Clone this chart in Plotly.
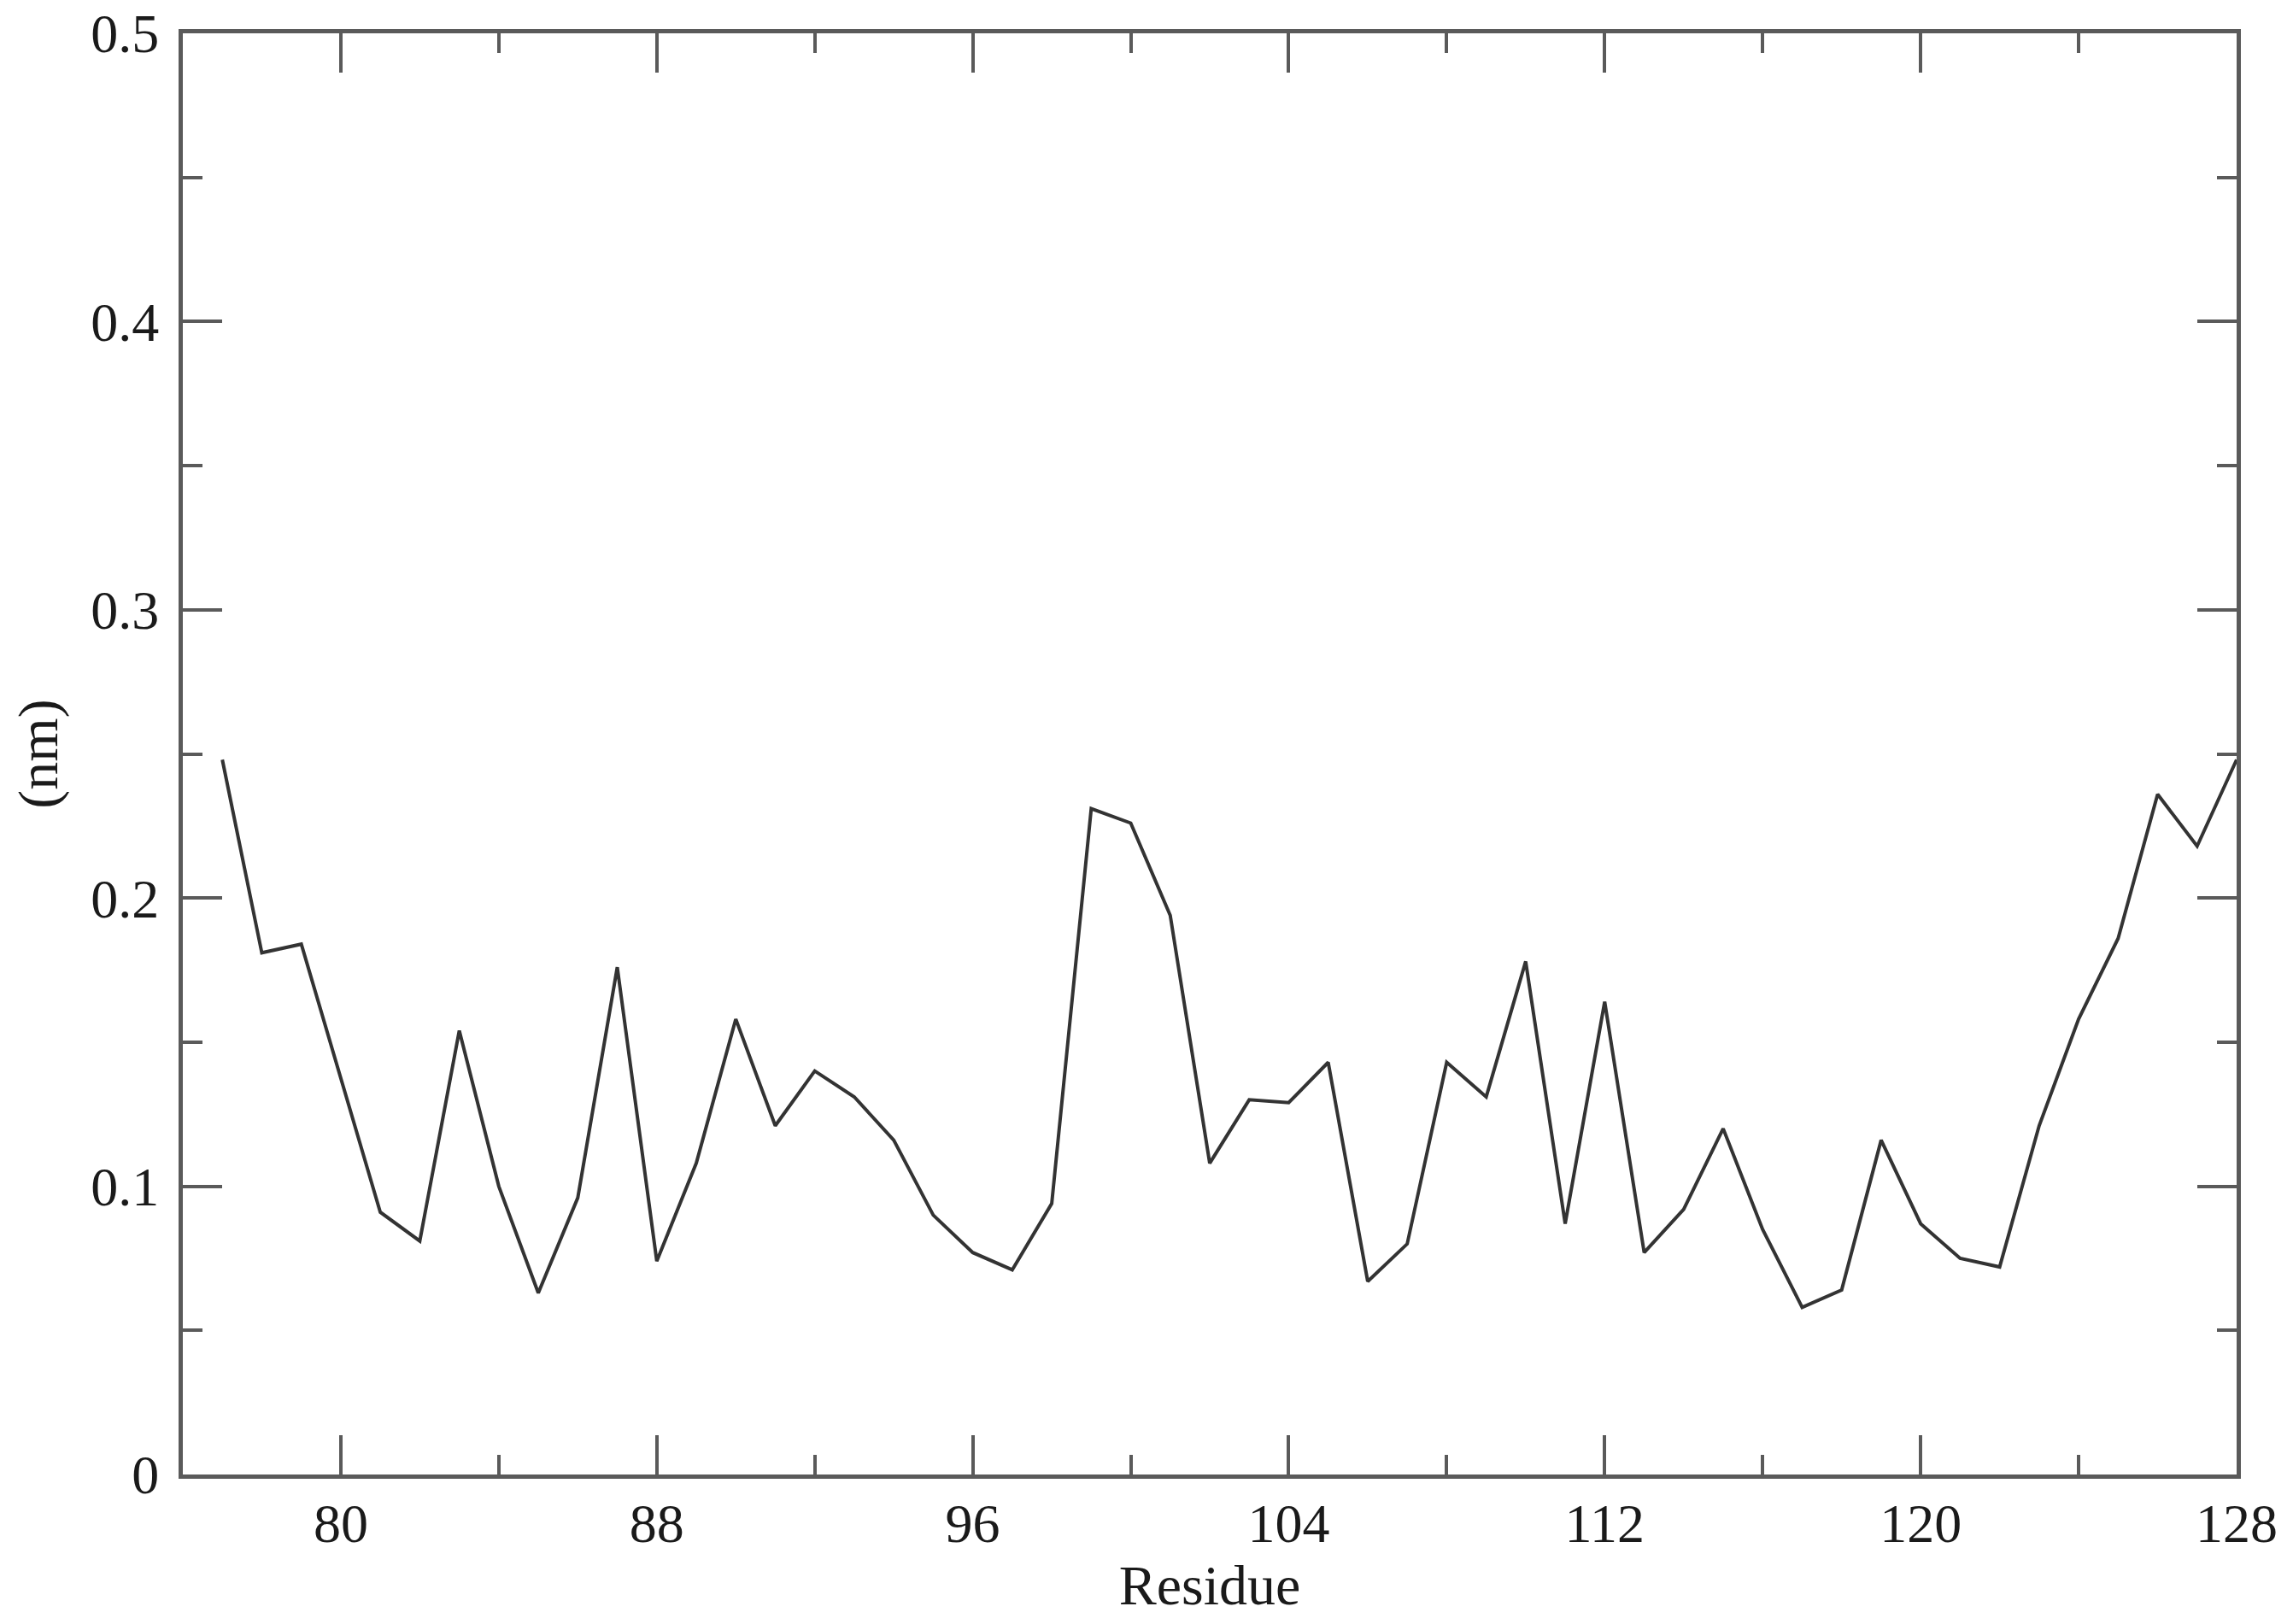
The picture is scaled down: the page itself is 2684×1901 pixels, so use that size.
import plotly.graph_objects as go

# residue numbers and per-residue values (nm)
residues = list(range(77, 129))
rmsf_nm = [
    0.248, 0.181, 0.184, 0.137, 0.091, 0.081, 0.154, 0.100, 0.063, 0.096,
    0.176, 0.074, 0.108, 0.158, 0.121, 0.140, 0.131, 0.116, 0.090, 0.077,
    0.071, 0.094, 0.231, 0.226, 0.194, 0.108, 0.130, 0.129, 0.143, 0.067,
    0.080, 0.143, 0.131, 0.178, 0.087, 0.164, 0.077, 0.092, 0.120, 0.085,
    0.058, 0.064, 0.116, 0.087, 0.075, 0.072, 0.121, 0.158, 0.186, 0.236,
    0.218, 0.248,
]

x_ticks = [80, 88, 96, 104, 112, 120, 128]
y_ticks = [0, 0.1, 0.2, 0.3, 0.4, 0.5]
y_tick_labels = ["0", "0.1", "0.2", "0.3", "0.4", "0.5"]

x_title = "Residue"
y_title = "(nm)"

font_family = "Liberation Serif, Times New Roman, serif"
frame = "#5a5a5a"

fig = go.Figure()
fig.add_trace(go.Scatter(
    x=residues, y=rmsf_nm, mode="lines",
    line=dict(color="#333333", width=4),
    showlegend=False,
))

axis_common = dict(
    showline=True, linecolor=frame, linewidth=5,
    mirror="ticks", ticks="inside", ticklen=46, tickwidth=4, tickcolor=frame,
    showgrid=False, zeroline=False, ticklabeloverflow="allow", automargin=False,
    tickfont=dict(family=font_family, size=64, color="#1a1a1a"),
)

fig.update_xaxes(
    range=[76, 128], tickmode="array", tickvals=x_ticks,
    minor=dict(tickmode="linear", tick0=76, dtick=4, ticks="inside", ticklen=23, tickwidth=4, tickcolor=frame),
    title=dict(text=x_title, font=dict(family=font_family, size=66, color="#1a1a1a"), standoff=14),
    ticklabelstandoff=-3,
    **axis_common,
)
fig.update_yaxes(
    range=[0, 0.5], tickmode="array", tickvals=y_ticks, ticktext=y_tick_labels,
    minor=dict(tickmode="linear", tick0=0, dtick=0.05, ticks="inside", ticklen=23, tickwidth=4, tickcolor=frame),
    title=dict(text=y_title, font=dict(family=font_family, size=66, color="#1a1a1a"), standoff=26),
    ticklabelstandoff=10,
    **axis_common,
)

fig.update_layout(
    width=2684, height=1901,
    margin=dict(l=206, r=74, t=31, b=183),
    paper_bgcolor="white", plot_bgcolor="white",
)

fig.write_html("out.html")
